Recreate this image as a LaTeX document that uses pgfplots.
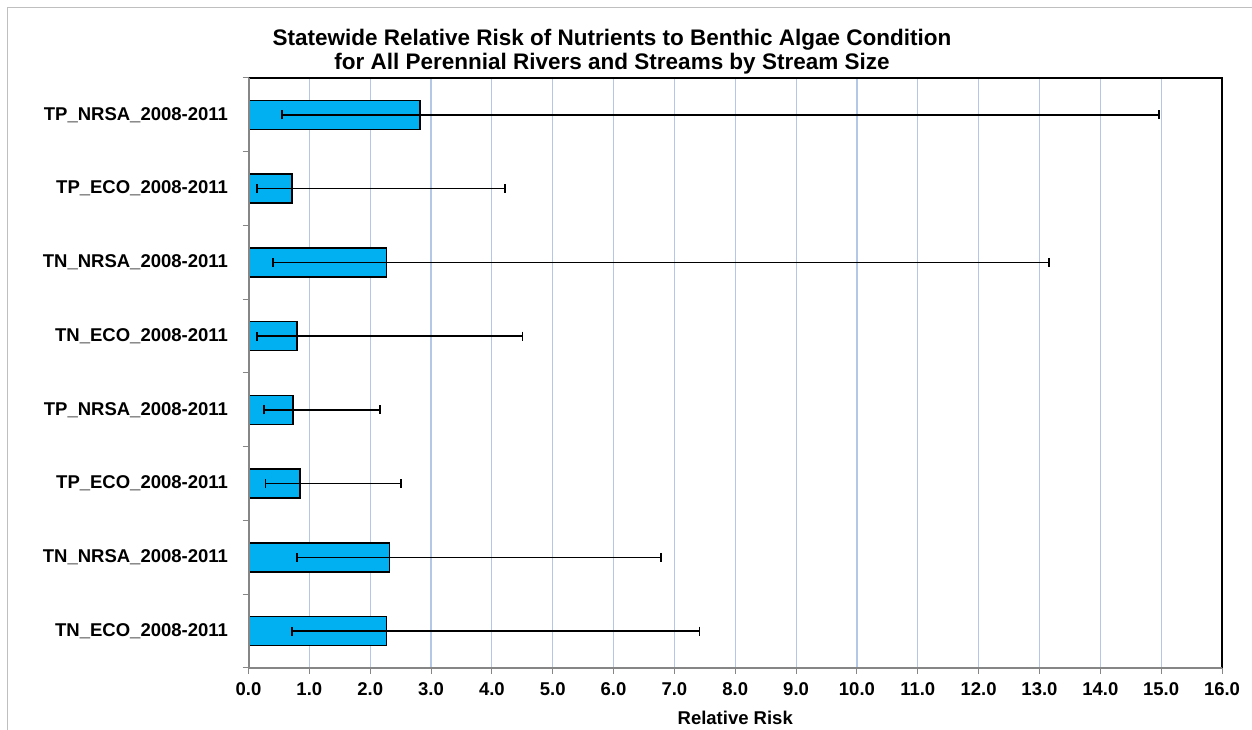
\documentclass[border=0pt]{standalone}
\usepackage{fontspec}
\setmainfont{Liberation Sans}
\usepackage{pgfplots}
\usepackage{pgfplotstable}
\pgfplotsset{compat=1.18}
\definecolor{barc}{HTML}{00B0F0}
\definecolor{gridc}{HTML}{B4C7E7}
\definecolor{axgray}{HTML}{868686}
\pgfplotstableread{
y v em ep
8 2.82 2.27 12.14
7 0.71 0.575 3.51
6 2.27 1.87 10.89
5 0.80 0.665 3.70
4 0.73 0.475 1.43
3 0.85 0.57 1.66
2 2.32 1.52 4.46
1 2.27 1.56 5.14
}\rrdata
\begin{document}
\begin{tikzpicture}[x=1pt,y=1pt]
\path[use as bounding box] (0,0) rectangle (1252,730);
\draw[black!25, line width=1pt] (7,0) -- (7,722) -- (1252,722);
\begin{axis}[
  at={(248.5pt,62pt)}, anchor=south west,
  scale only axis, width=973.5pt, height=590pt,
  clip=false,
  xmin=0, xmax=16, ymin=0.5, ymax=8.5,
  xtick={0,1,...,16},
  ytick={1,...,8},
  yticklabels={TN\_ECO\_2008-2011,TN\_NRSA\_2008-2011,TP\_ECO\_2008-2011,TP\_NRSA\_2008-2011,TN\_ECO\_2008-2011,TN\_NRSA\_2008-2011,TP\_ECO\_2008-2011,TP\_NRSA\_2008-2011},
  minor ytick={0.5,1.5,...,8.5},
  xtick pos=left, ytick pos=left,
  tick align=outside,
  major tick length=6pt, minor tick length=6pt,
  every major y tick/.append style={draw=none},
  every minor y tick/.append style={axgray, line width=1pt},
  every major x tick/.append style={axgray, line width=1pt},
  xmajorgrids,
  major grid style={gridc, line width=1.2pt},
  axis line style={draw=none},
  tick label style={font=\fontsize{18.5}{22}\selectfont\bfseries},
  xticklabel style={/pgf/number format/.cd, fixed, fixed zerofill, precision=1, assume math mode=true},
  xticklabel shift=5pt,
  yticklabel shift=11pt,
  xlabel={Relative Risk},
  every axis x label/.style={at={(rel axis cs:0.5,0)}, anchor=center, yshift=-50pt, font=\fontsize{18.5}{22}\selectfont\bfseries},
  title={Statewide Relative Risk of Nutrients to Benthic Algae Condition\\for All Perennial Rivers and Streams by Stream Size},
  every axis title/.style={at={(rel axis cs:0.3734,1)}, anchor=center, yshift=26pt, align=center, font=\fontsize{22.5}{24}\selectfont\bfseries},
]
\addplot[xbar, bar width=29pt, fill=barc, draw=black, line width=1.6pt,
  error bars/.cd, x dir=both, x explicit,
  error mark=|,
  error bar style={black, line width=1.6pt},
  error mark options={black, line width=1.6pt, mark size=4.5pt}]
  table[x=v, y=y, x error plus=ep, x error minus=em] {\rrdata};
\draw[black, line width=1.5pt] (rel axis cs:0,1) -- (rel axis cs:1,1) -- (rel axis cs:1,0);
\draw[axgray, line width=2pt] (rel axis cs:0,1) -- (rel axis cs:0,0) -- (rel axis cs:1,0);
\end{axis}
\end{tikzpicture}
\end{document}
